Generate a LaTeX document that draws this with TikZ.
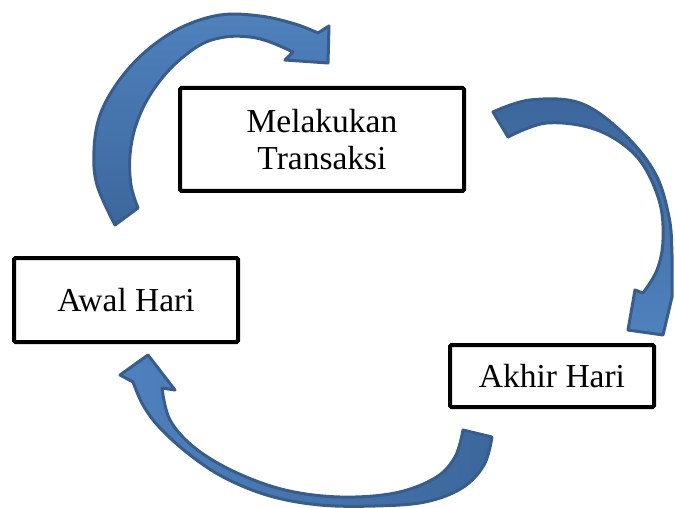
\documentclass[tikz,border=0pt]{standalone}
\usepackage{fontspec}
\setmainfont{Liberation Serif}
\definecolor{arrowlight}{RGB}{79,129,189}
\definecolor{arrowdark}{RGB}{60,103,156}
\definecolor{arrowedge}{RGB}{56,93,138}
\begin{document}
\begin{tikzpicture}[x=1pt,y=-1pt,
  box/.style={draw=black, line width=4pt, rounded corners=1.5pt, fill=white,
    align=center, inner sep=0pt, font=\fontsize{33.5}{37}\selectfont},
  arrowshape/.style={draw=arrowedge, line width=3pt, line join=round}]
\useasboundingbox (0,0) rectangle (675,508);

% top-left arrow
\shadedraw[arrowshape, top color=arrowlight, bottom color=arrowdark]
  plot[smooth, tension=0.6] coordinates {(115,225) (97,185) (94,150) (100,115) (118,82) (145,52) (180,28) (220,15) (260,16) (295,24) (318,33)}
  -- (329,26) -- (328,63) -- (285,60) -- (293,52)
  -- plot[smooth, tension=0.6] coordinates {(293,52) (270,42) (250,37) (225,37) (200,45) (172,67) (150,95) (136,125) (130,155) (131,185) (138,208)}
  -- cycle;

% top-right arrow
\shadedraw[arrowshape, top color=arrowdark, bottom color=arrowlight]
  plot[smooth, tension=0.6] coordinates {(493,112) (530,100) (580,103) (623,133) (655,173) (669,217) (672,255) (672,297)}
  -- (663,335) -- (628,330) -- (635,290) -- (643,293)
  -- plot[smooth, tension=0.6] coordinates {(643,293) (657,270) (663,240) (659,200) (637,157) (597,130) (547,123) (508,137)}
  -- cycle;

% bottom arrow
\shadedraw[arrowshape, left color=arrowlight, right color=arrowdark]
  plot[smooth, tension=0.6] coordinates {(492,437) (484,465) (462,488) (425,502) (375,506) (320,505) (270,496) (225,478) (190,455) (160,428) (143,405) (133,382)}
  -- (120,375) -- (148,355) -- (175,390) -- (162,388)
  -- plot[smooth, tension=0.6] coordinates {(162,388) (170,420) (195,448) (235,472) (285,490) (340,497) (395,493) (435,478) (455,457) (463,430)}
  -- cycle;

\node[box, minimum width=284pt, minimum height=103pt] (trans) at (322,139.5) {Melakukan\\Transaksi};
\node[box, minimum width=224pt, minimum height=84pt] (awal) at (126,300) {Awal Hari};
\node[box, minimum width=204pt, minimum height=62pt] (akhir) at (552,376) {Akhir Hari};
\end{tikzpicture}
\end{document}
